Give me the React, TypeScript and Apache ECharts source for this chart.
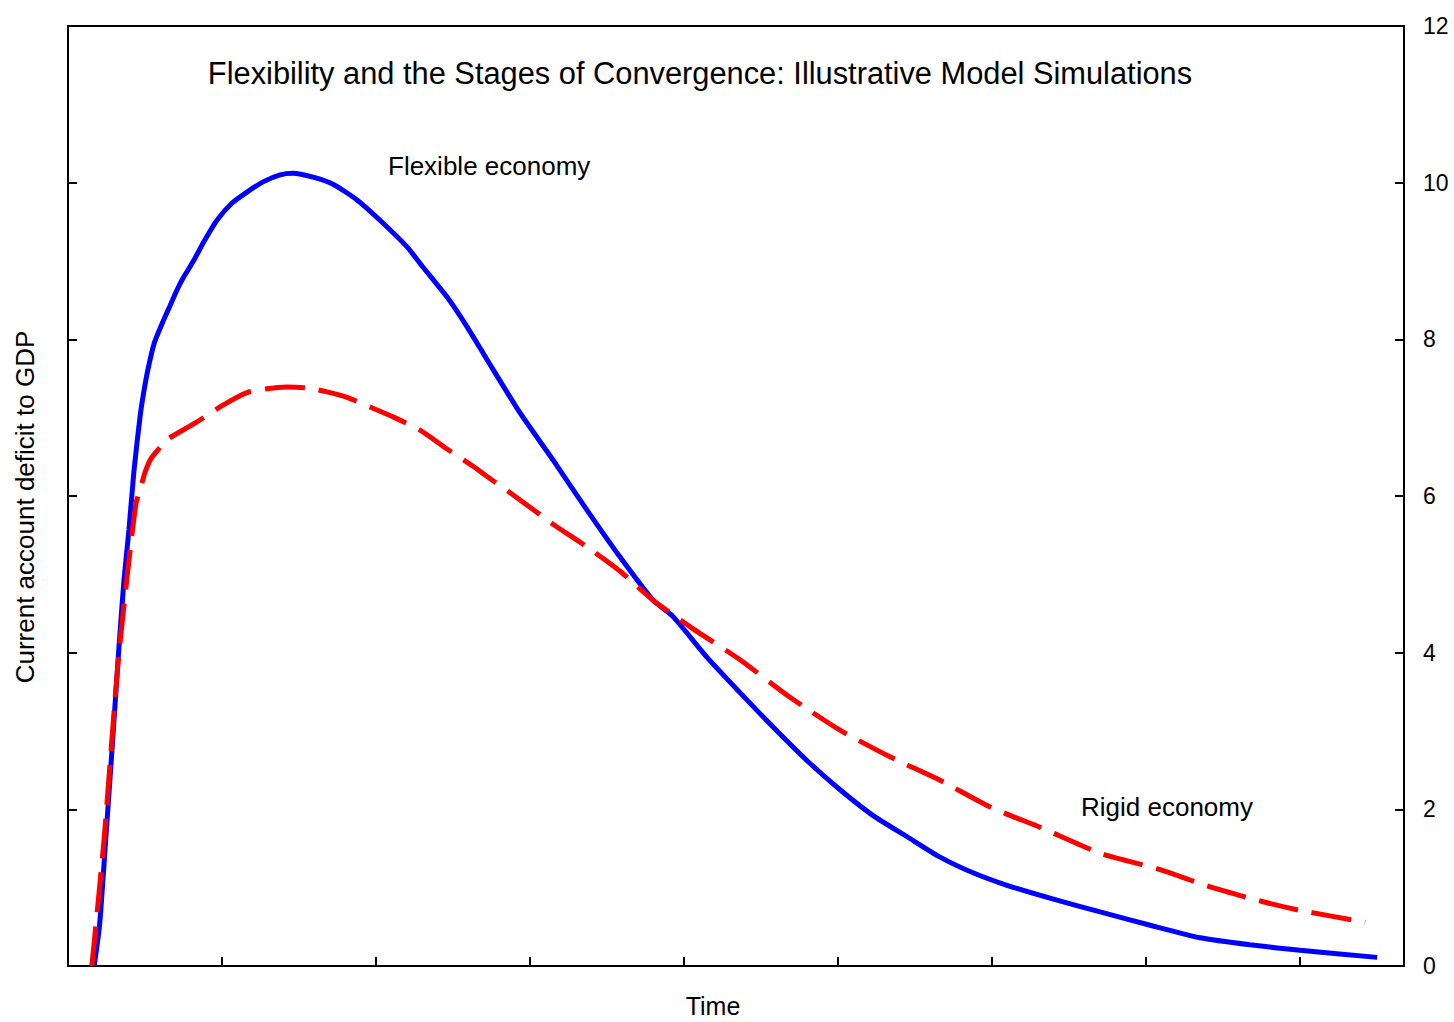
import React, { useEffect, useRef } from "react";
import * as echarts from "echarts";

const titleText = "Flexibility and the Stages of Convergence: Illustrative Model Simulations";
const yAxisTitle = "Current account deficit to GDP";
const xAxisTitle = "Time";
const flexLabel = "Flexible economy";
const rigidLabel = "Rigid economy";

const yTicks = [0, 2, 4, 6, 8, 10, 12];

// Flexible economy: [time, CA deficit / GDP]
const flexible: [number, number][] = [
  [1.7, 0], [2.05, 0.52], [2.45, 1.61], [2.88, 2.82], [3.31, 4.07], [3.64, 4.93],
  [3.96, 5.57], [4.29, 6.33], [4.68, 7.01], [4.9, 7.3], [5.2, 7.62], [5.6, 7.95],
  [6.11, 8.2], [6.63, 8.43], [7.08, 8.63], [7.47, 8.78], [8.12, 8.99], [8.9, 9.27],
  [9.68, 9.52], [10.66, 9.74], [11.63, 9.88], [12.67, 10.01], [13.78, 10.1], [14.62, 10.12],
  [15.92, 10.07], [17.22, 9.98], [18.78, 9.78], [20.27, 9.52], [22.03, 9.18], [23.07, 8.92],
  [24.63, 8.54], [25.93, 8.16], [27.23, 7.74], [29.37, 7.06], [31.51, 6.46], [33.72, 5.82],
  [35.87, 5.22], [38.01, 4.67], [39.31, 4.46], [41.52, 3.94], [43.66, 3.49], [45.81, 3.05],
  [48.02, 2.62], [50.16, 2.25], [52.31, 1.92], [54.52, 1.65], [56.66, 1.39], [58.8, 1.19],
  [61.01, 1.03], [64.26, 0.84], [67.06, 0.69], [70.31, 0.52], [73.56, 0.36], [76.8, 0.27],
  [80.05, 0.2], [85.06, 0.11],
];

// Rigid economy: [time, CA deficit / GDP]
const rigid: [number, number][] = [
  [1.55, 0], [2.34, 1.61], [3.25, 3.87], [3.96, 5.18], [4.42, 5.91], [4.68, 6.08],
  [5.0, 6.3], [5.4, 6.48], [5.98, 6.62], [6.43, 6.72], [8.25, 6.93], [10.07, 7.16],
  [11.63, 7.32], [12.93, 7.37], [14.23, 7.39], [15.53, 7.38], [16.83, 7.33], [18.13, 7.26],
  [19.82, 7.12], [21.12, 7.01], [22.87, 6.84], [24.63, 6.6], [26.32, 6.38], [27.23, 6.25],
  [29.37, 5.95], [31.51, 5.64], [33.72, 5.35], [35.87, 5.04], [38.01, 4.67], [40.42, 4.33],
  [43.66, 3.91], [46.91, 3.43], [50.16, 3.01], [53.41, 2.67], [56.66, 2.37], [59.91, 2.03],
  [63.16, 1.77], [67.06, 1.44], [70.96, 1.23], [74.21, 1.01], [77.65, 0.82], [80.05, 0.71],
  [84.28, 0.56],
];

const FONT = "'Liberation Sans', Arial, sans-serif";

export default function App() {
  const ref = useRef<HTMLDivElement>(null);

  useEffect(() => {
    if (!ref.current) return;
    const chart = echarts.init(ref.current, null, { renderer: "svg" });
    const axisBase = {
      type: "value" as const,
      min: yTicks[0],
      max: yTicks[yTicks.length - 1],
      interval: 2,
      splitLine: { show: false },
      axisLine: { show: true, lineStyle: { color: "#000", width: 2 } },
      axisTick: { show: true, inside: true, length: 9, lineStyle: { color: "#000", width: 2 } },
    };
    const txt = (text: string, x: number, y: number, size: number, align: string, extra: any = {}) => ({
      type: "text",
      x,
      y,
      ...extra,
      style: {
        text,
        fontSize: size,
        fontFamily: FONT,
        fill: "#000",
        align,
        verticalAlign: "middle",
        textAlign: align,
        textVerticalAlign: "middle",
      },
    });
    chart.setOption({
      animation: false,
      backgroundColor: "#fff",
      textStyle: { fontFamily: FONT },
      grid: {
        left: 68,
        right: 50,
        top: 26,
        bottom: 56,
        show: true,
        borderColor: "#000",
        borderWidth: 2,
        containLabel: false,
      },
      xAxis: {
        type: "value",
        min: 0,
        max: 86.8,
        interval: 10,
        splitLine: { show: false },
        axisLine: { show: true, onZero: false, lineStyle: { color: "#000", width: 2 } },
        axisTick: { show: true, inside: true, length: 9, lineStyle: { color: "#000", width: 2 } },
        axisLabel: { show: false },
      },
      yAxis: [
        { ...axisBase, position: "left", axisLabel: { show: false } },
        {
          ...axisBase,
          position: "right",
          axisLabel: {
            show: true,
            color: "#000",
            fontSize: 23,
            fontFamily: FONT,
            margin: 19,
            align: "left",
          },
        },
      ],
      series: [
        {
          type: "line",
          name: flexLabel,
          yAxisIndex: 1,
          data: flexible,
          showSymbol: false,
          smooth: 0.2,
          lineStyle: { color: "#0000FF", width: 5 },
          z: 2,
        },
        {
          type: "line",
          name: rigidLabel,
          yAxisIndex: 1,
          data: rigid,
          showSymbol: false,
          smooth: 0.2,
          lineStyle: { color: "#FF0000", width: 5, type: [40, 14], cap: "butt" },
          z: 3,
        },
      ],
      graphic: [
        txt(titleText, 700, 73, 30.8, "center"),
        txt(flexLabel, 388, 166, 26, "left"),
        txt(rigidLabel, 1081, 807, 26, "left"),
        txt(xAxisTitle, 713, 1006, 25, "center"),
        txt(yAxisTitle, 25, 507, 26, "center", { rotation: Math.PI / 2 }),
      ],
    });
    return () => chart.dispose();
  }, []);

  return <div ref={ref} style={{ width: 1454, height: 1022, position: "absolute", left: 0, top: 0 }} />;
}
